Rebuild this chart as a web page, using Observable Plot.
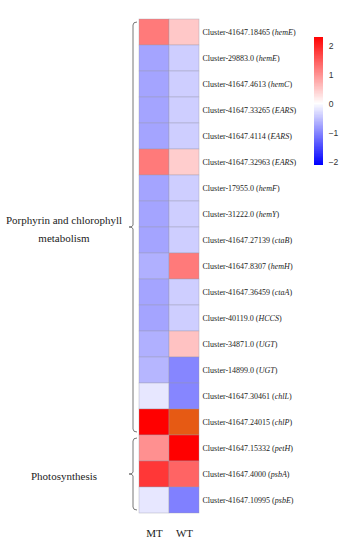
<!DOCTYPE html>
<html>
<head>
<meta charset="utf-8">
<script src="https://cdn.jsdelivr.net/npm/d3@7"></script>
<script src="https://cdn.jsdelivr.net/npm/@observablehq/plot@0.6"></script>
<style>
  body { margin: 0; background: #fff; }
  #wrap { position: relative; width: 350px; height: 550px; overflow: hidden; }
  #legend { position: absolute; left: 312px; top: 30px; }
</style>
</head>
<body>
<div id="wrap"><div id="main"></div><div id="legend"></div></div>
<script>
const samples = ["MT", "WT"];
const clusters = ["Cluster-41647.18465", "Cluster-29883.0", "Cluster-41647.4613", "Cluster-41647.33265",
  "Cluster-41647.4114", "Cluster-41647.32963", "Cluster-17955.0", "Cluster-31222.0", "Cluster-41647.27139",
  "Cluster-41647.8307", "Cluster-41647.36459", "Cluster-40119.0", "Cluster-34871.0", "Cluster-14899.0",
  "Cluster-41647.30461", "Cluster-41647.24015", "Cluster-41647.15332", "Cluster-41647.4000", "Cluster-41647.10995"];
const genes = ["hemE", "hemE", "hemC", "EARS", "EARS", "EARS", "hemF", "hemY", "ctaB", "hemH", "ctaA", "HCCS",
  "UGT", "UGT", "chlL", "chlP", "petH", "psbA", "psbE"];
const mtValues = [1.2, -0.75, -0.75, -0.75, -0.75, 1.2, -0.75, -0.75, -0.75, -0.65, -0.75, -0.75, -0.65, -0.6, -0.2, 2.3, 1.0, 1.8, -0.2];
const wtValues = [0.5, -0.4, -0.4, -0.4, -0.4, 0.45, -0.4, -0.4, -0.4, 1.2, -0.4, -0.4, 0.55, -1.0, -1.0, 2.6, 2.3, 1.4, -1.05];
const groupNames = ["Porphyrin and chlorophyll|metabolism", "Photosynthesis"];
const groupStart = [0, 16];
const groupEnd = [15, 18];
const legendTicks = [-2, -1, 0, 1, 2];

const rowLabels = clusters.map((c, i) => `${c} (${genes[i]})`);
const cells = [];
rowLabels.forEach((r, i) => {
  cells.push({row: r, sample: "MT", value: mtValues[i]});
  cells.push({row: r, sample: "WT", value: wtValues[i]});
});

const colorOpts = {
  type: "linear",
  domain: [-2.1, 0, 2.3, 2.6],
  range: ["#0000ff", "#ffffff", "#ff0000", "#e65a14"],
  interpolate: "rgb",
  clamp: true
};

const serif = "'Liberation Serif', 'Times New Roman', serif";

const plot = Plot.plot({
  width: 350,
  height: 550,
  marginLeft: 139,
  marginRight: 151,
  marginTop: 10,
  marginBottom: 29,
  style: {fontFamily: serif, background: "transparent"},
  x: {domain: samples, padding: 0, axis: "bottom", tickSize: 0, tickPadding: 8, label: null},
  y: {domain: rowLabels, padding: 0, axis: "right", tickSize: 0, tickPadding: 3, label: null},
  color: colorOpts,
  marks: [
    Plot.cell(cells, {x: "sample", y: "row", fill: "value", stroke: "#9a9aa8", strokeWidth: 0.6, strokeOpacity: 0.6, inset: 0})
  ]
});

const svg = d3.select(plot);
svg.selectAll('g[aria-label="y-axis tick label"]').attr("font-size", 8).attr("fill", "#222");
svg.selectAll('g[aria-label="x-axis tick label"]').attr("font-size", 11).attr("fill", "#222");
svg.selectAll('g[aria-label="y-axis tick label"] text, g[aria-label="y-axis"] text').each(function () {
  const t = this.textContent;
  const m = t.match(/^(.*\()(.*)(\))$/);
  if (!m) return;
  const el = d3.select(this);
  el.text(null);
  el.append("tspan").text(m[1]);
  el.append("tspan").attr("font-style", "italic").text(m[2]);
  el.append("tspan").text(m[3]);
});

// brackets and group labels, positioned through the plot's y scale
const ys = plot.scale("y");
const band = ys.apply ? ys.apply : d3.scaleBand(ys.domain, ys.range);
const bw = ys.bandwidth;
const bx = 133;
const brackets = svg.append("g").attr("fill", "none").attr("stroke", "#777").attr("stroke-width", 1);
const labels = svg.append("g").style("font-family", serif).attr("font-size", 11).attr("fill", "#222").attr("text-anchor", "middle");
groupNames.forEach((name, g) => {
  const y1 = band(rowLabels[groupStart[g]]) + 3;
  const y2 = band(rowLabels[groupEnd[g]]) + bw - 3;
  const ym = (band(rowLabels[groupStart[g]]) + band(rowLabels[groupEnd[g]]) + bw) / 2;
  brackets.append("path")
    .attr("d", `M${bx + 4},${y1} Q${bx},${y1} ${bx},${y1 + 3} L${bx},${ym - 2} Q${bx},${ym} ${bx - 4},${ym} Q${bx},${ym} ${bx},${ym + 2} L${bx},${y2 - 3} Q${bx},${y2} ${bx + 4},${y2}`);
  const lines = name.split("|");
  lines.forEach((ln, k) => {
    labels.append("text")
      .attr("x", 64)
      .attr("y", ym + 2 + (k - (lines.length - 1) / 2) * 18)
      .attr("dy", "0.35em")
      .text(ln);
  });
});

document.getElementById("main").appendChild(plot);

// legend colour bar
const step = 0.02;
const stops = d3.range(-2.1, 2.3, step);
const legend = Plot.plot({
  width: 40,
  height: 150,
  marginLeft: 2,
  marginRight: 28,
  marginTop: 7,
  marginBottom: 8,
  style: {fontFamily: "'Liberation Sans', Arial, sans-serif", background: "transparent"},
  x: {domain: [0, 1], axis: null},
  y: {domain: [-2.1, 2.3], axis: "right", ticks: legendTicks, tickSize: 0, tickPadding: 5, label: null, tickFormat: d => d < 0 ? "\u2212" + Math.abs(d) : String(d)},
  color: colorOpts,
  marks: [
    Plot.rect(stops, {x1: 0, x2: 1, y1: d => d, y2: d => Math.min(d + step * 1.6, 2.3), fill: d => d, shapeRendering: "crispEdges"})
  ]
});
d3.select(legend).selectAll('g[aria-label="y-axis tick label"]').attr("font-size", 9).attr("fill", "#333");
document.getElementById("legend").appendChild(legend);
</script>
</body>
</html>
